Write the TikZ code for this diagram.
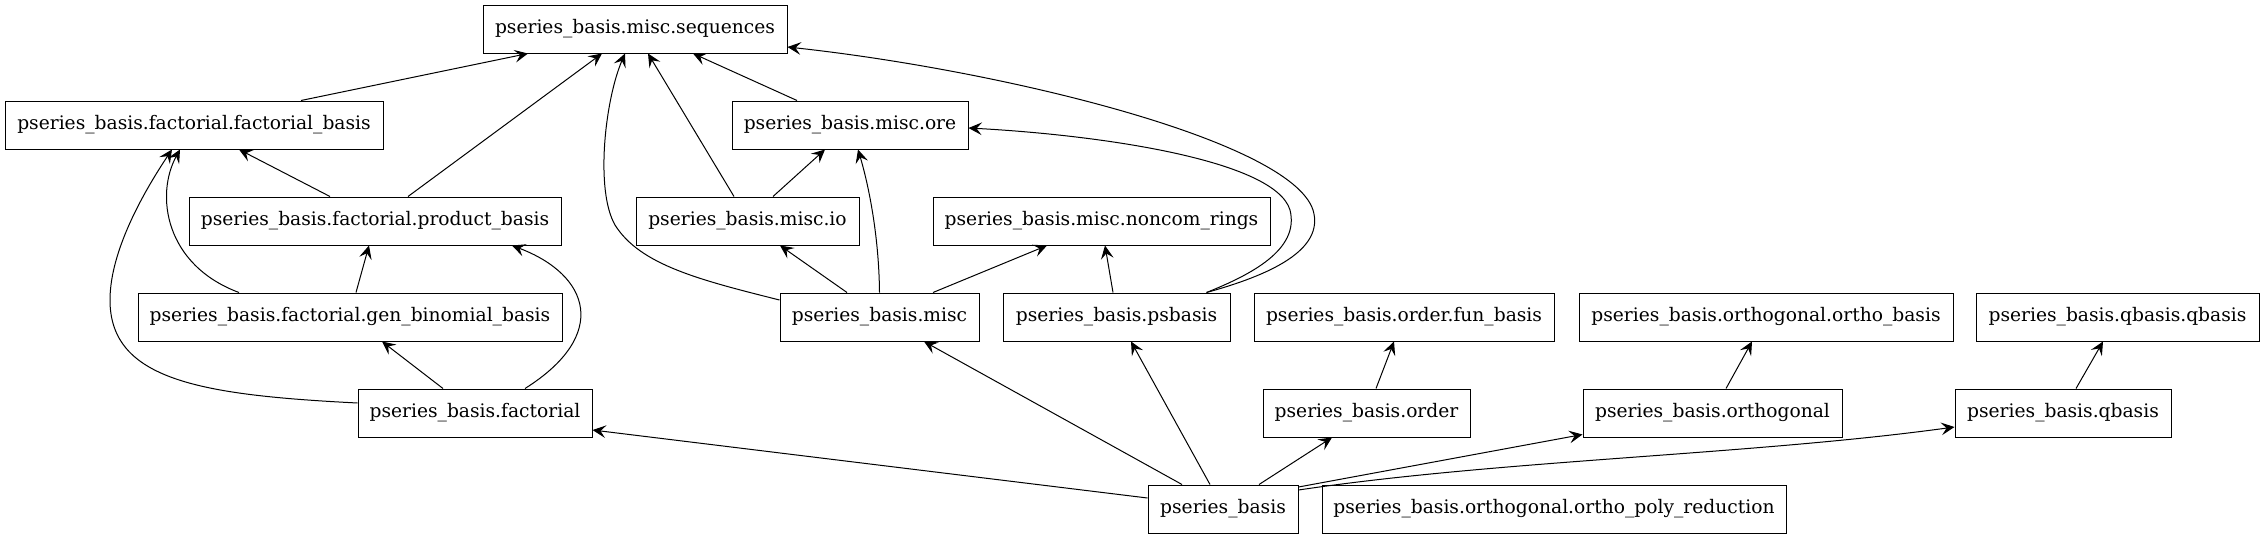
\documentclass[tikz,border=0pt]{standalone}
\usepackage{fontspec}
\setmainfont{DejaVu Serif}
\usetikzlibrary{arrows.meta,calc}
\begin{document}
\begin{tikzpicture}[x=0.75pt,y=-0.75pt,
  mod/.style={draw,line width=0.75pt,minimum height=36pt,inner sep=0pt,anchor=center,font=\fontsize{14pt}{17pt}\selectfont},
  dep/.style={line width=0.75pt,-{Stealth[length=10pt,width=9.5pt,inset=4pt]}}]
\useasboundingbox (0,0) rectangle (2265,539);
\fill[white] (0,0) rectangle (2265,539);
% nodes
\node[mod,minimum width=228pt] (seq) at (635,29) {pseries\_basis.misc.sequences};
\node[mod,minimum width=283.5pt] (fb) at (194,125) {pseries\_basis.factorial.factorial\_basis};
\node[mod,minimum width=177pt] (ore) at (850,125) {pseries\_basis.misc.ore};
\node[mod,minimum width=279pt] (pb) at (375,221) {pseries\_basis.factorial.product\_basis};
\node[mod,minimum width=167.25pt] (io) at (747.5,221) {pseries\_basis.misc.io};
\node[mod,minimum width=252.75pt] (nc) at (1101.5,221) {pseries\_basis.misc.noncom\_rings};
\node[mod,minimum width=318pt] (gb) at (350,317) {pseries\_basis.factorial.gen\_binomial\_basis};
\node[mod,minimum width=149.25pt] (misc) at (879.5,317) {pseries\_basis.misc};
\node[mod,minimum width=170.25pt] (ps) at (1116.5,317) {pseries\_basis.psbasis};
\node[mod,minimum width=225pt] (fun) at (1404,317) {pseries\_basis.order.fun\_basis};
\node[mod,minimum width=280.5pt] (ob) at (1766,317) {pseries\_basis.orthogonal.ortho\_basis};
\node[mod,minimum width=212.25pt] (qq) at (2117.5,317) {pseries\_basis.qbasis.qbasis};
\node[mod,minimum width=175.5pt] (fact) at (475,413) {pseries\_basis.factorial};
\node[mod,minimum width=155.25pt] (order) at (1366.5,413) {pseries\_basis.order};
\node[mod,minimum width=194.25pt] (orth) at (1712.5,413) {pseries\_basis.orthogonal};
\node[mod,minimum width=162pt] (qb) at (2063,413) {pseries\_basis.qbasis};
\node[mod,minimum width=112.5pt] (root) at (1223,509) {pseries\_basis};
\node[mod,minimum width=348pt] (opr) at (1554,509) {pseries\_basis.orthogonal.ortho\_poly\_reduction};
% edges
\draw[dep] ($(fb.north)+(107,0)$) -- ($(seq.south)+(-107,0)$);
\draw[dep] ($(pb.north)+(33,0)$) -- ($(seq.south)+(-33,0)$);
\draw[dep] ($(pb.north)+(-45,0)$) -- ($(fb.south)+(45,0)$);
\draw[dep] ($(gb.north)+(-111,0)$) .. controls (165,265) and (155,195) .. ($(fb.south)+(-14,0)$);
\draw[dep] ($(gb.north)+(6,0)$) -- ($(pb.south)+(-6,0)$);
\draw[dep] ($(fact.west)+(0,-10)$) .. controls (200,395) and (110,380) .. (110,300) .. controls (110,250) and (145,190) .. ($(fb.south)+(-22,0)$);
\draw[dep] ($(fact.north)+(-32,0)$) -- ($(gb.south)+(32,0)$);
\draw[dep] ($(fact.north)+(50,0)$) .. controls (610,335) and (590,275) .. ($(pb.south)+(137,0)$);
\draw[dep] ($(misc.west)+(0,-17)$) .. controls (700,280) and (640,265) .. (615,225) .. controls (595,190) and (605,100) .. ($(seq.south)+(-10,0)$);
\draw[dep] ($(io.north)+(-13.5,0)$) -- ($(seq.south)+(13,0)$);
\draw[dep] ($(ore.north)+(-53,0)$) -- ($(seq.south)+(58,0)$);
\draw[dep] ($(io.north)+(25.5,0)$) -- ($(ore.south)+(-25,0)$);
\draw[dep] (misc.north) .. controls (879,240) and (870,190) .. ($(ore.south)+(8,0)$);
\draw[dep] ($(misc.north)+(-32.5,0)$) -- ($(io.south)+(32.5,0)$);
\draw[dep] ($(misc.north)+(53.5,0)$) -- ($(nc.south)+(-54.5,0)$);
\draw[dep] ($(ps.north)+(-3.5,0)$) -- ($(nc.south)+(3.5,0)$);
\draw[dep] ($(ps.north)+(90,0)$) .. controls (1250,275) and (1300,250) .. (1290,210) .. controls (1275,160) and (1100,135) .. ($(ore.east)+(0,3)$);
\draw[dep] ($(ps.north)+(90,0)$) .. controls (1270,275) and (1325,250) .. (1313,210) .. controls (1290,140) and (1000,70) .. ($(seq.east)+(0,18)$);
\draw[dep] ($(root.west)+(0,-11)$) -- ($(fact.east)+(0,17)$);
\draw[dep] ($(root.north)+(-41,0)$) -- ($(misc.south)+(44.5,0)$);
\draw[dep] ($(root.north)+(-13,0)$) -- ($(ps.south)+(14.5,0)$);
\draw[dep] ($(root.north)+(36,0)$) -- ($(order.south)+(-34.5,0)$);
\draw[dep] ($(order.north)+(9.5,0)$) -- ($(fun.south)+(-10,0)$);
\draw[dep] ($(root.east)+(0,-22)$) -- ($(orth.south west)+(0,-3)$);
\draw[dep] ($(root.east)+(0,-19)$) .. controls (1500,460) and (1750,455) .. ($(qb.west)+(0,14)$);
\draw[dep] ($(orth.north)+(13.5,0)$) -- ($(ob.south)+(-14,0)$);
\draw[dep] ($(qb.north)+(13,0)$) -- ($(qq.south)+(-14.5,0)$);
\end{tikzpicture}
\end{document}
